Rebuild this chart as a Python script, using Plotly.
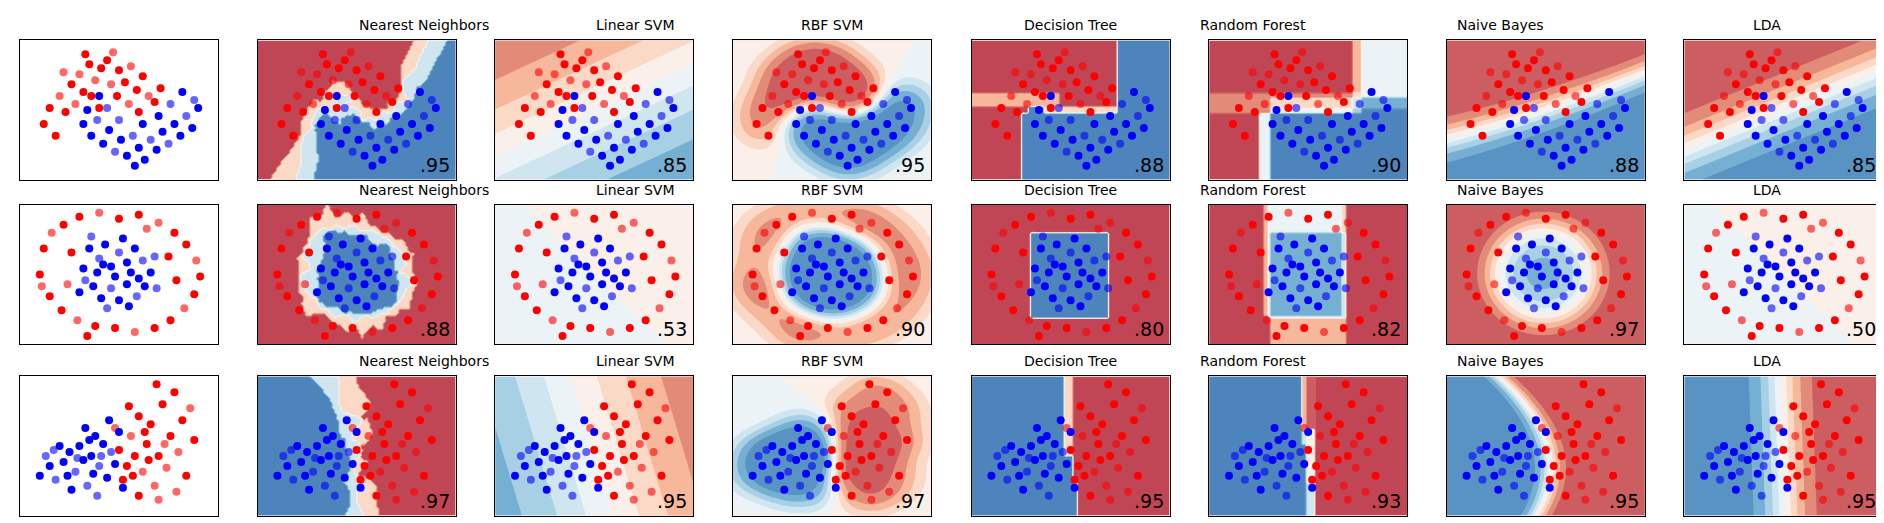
import numpy as np
import plotly.graph_objects as go

names = ["Nearest Neighbors", "Linear SVM", "RBF SVM", "Decision Tree",
         "Random Forest", "Naive Bayes", "LDA"]
scores = [[".95", ".85", ".95", ".88", ".90", ".88", ".85"],
          [".88", ".53", ".90", ".80", ".82", ".97", ".50"],
          [".97", ".95", ".97", ".95", ".93", ".95", ".95"]]

moons_red = [(1.2,2.8),(1.5,3.6),(2.0,4.2),(2.3,3.4),(2.6,4.8),(3.0,5.3),(3.2,4.4),(3.5,5.8),(3.8,5.0),(4.1,5.6),
             (4.4,6.0),(4.6,4.8),(5.0,5.5),(5.3,4.9),(5.6,5.7),(5.9,4.5),(6.2,5.2),(6.5,4.2),(6.8,3.9),(7.1,4.6),
             (2.8,3.8),(3.6,4.2),(4.9,4.2),(2.2,5.4),(1.8,2.2),(4.0,3.6),(5.5,3.8),(6.0,3.4),(3.3,6.3),(4.7,6.4)]
moons_blue = [(3.2,2.8),(3.6,2.2),(3.9,3.0),(4.2,1.8),(4.5,2.5),(4.8,1.4),(5.1,2.0),(5.4,1.2),(5.7,2.2),(6.0,1.6),
              (6.3,1.0),(6.6,2.0),(6.9,1.5),(7.2,2.4),(7.5,1.8),(7.8,2.8),(8.1,2.2),(8.4,3.2),(8.7,2.6),(9.0,3.6),
              (8.8,4.0),(4.0,4.2),(3.4,3.5),(5.0,3.0),(6.2,2.8),(7.0,3.2),(7.6,3.8),(8.2,4.4),(5.8,0.7),(4.4,3.6)]
circ_blue = [(3.2,3.8),(3.5,4.8),(4.0,4.3),(4.3,5.0),(4.6,3.9),(5.0,4.6),(5.4,4.1),(5.8,4.8),(6.2,4.2),(6.6,3.6),
             (6.3,2.9),(5.9,2.4),(5.4,3.0),(5.0,2.2),(4.6,2.8),(4.1,2.3),(3.7,2.9),(3.3,3.2),(4.8,3.4),(5.6,3.6),
             (6.8,4.4),(3.9,3.6),(5.2,5.3),(4.4,1.8),(6.0,3.3),(3.0,2.6),(6.9,2.8),(4.2,4.0),(5.5,1.9),(3.6,5.4)]
circ_red = [(1.0,3.5),(1.2,4.8),(1.6,5.6),(2.2,6.0),(3.0,6.4),(4.0,6.6),(5.0,6.3),(6.0,6.5),(7.0,6.1),(7.8,5.6),
            (8.4,5.0),(8.9,4.2),(9.1,3.4),(8.8,2.5),(8.3,1.8),(7.6,1.2),(6.8,0.8),(5.8,0.6),(4.8,0.8),(3.8,0.9),
            (2.9,1.2),(2.1,1.7),(1.5,2.4),(1.1,2.9),(2.6,4.6),(7.5,4.4),(2.4,3.0),(7.9,3.2),(3.4,0.4),(6.4,5.8)]
lin_blue = [(1.0,2.0),(1.5,2.5),(1.8,1.8),(2.2,2.7),(2.5,3.2),(2.8,2.2),(3.0,3.5),(3.2,2.8),(3.4,1.5),(3.6,3.0),
            (3.8,4.0),(4.0,2.5),(4.2,3.6),(4.4,1.9),(4.6,3.2),(2.0,3.5),(2.6,1.3),(3.9,1.0),(4.8,2.6),(5.0,4.2),
            (1.3,3.0),(3.3,4.4),(4.5,4.8),(2.9,2.9),(3.7,2.1),(5.2,1.4),(4.1,3.0),(2.4,2.0),(3.5,3.8),(1.7,3.3)]
lin_red = [(5.0,3.3),(5.4,2.5),(5.6,4.0),(5.8,3.0),(6.0,5.0),(6.2,2.2),(6.4,3.6),(6.6,4.6),(6.8,1.5),(7.0,3.0),
           (7.2,5.6),(7.4,2.4),(7.6,4.0),(7.8,6.2),(8.0,3.2),(8.2,4.8),(8.4,2.0),(8.6,5.4),(5.2,1.8),(6.0,1.0),
           (7.0,0.8),(5.5,5.5),(6.9,6.6),(7.9,1.2),(6.3,4.2),(5.7,2.0),(7.3,3.6),(8.8,3.8),(6.5,2.8),(4.8,4.4)]
datasets = [(moons_red, moons_blue), (circ_red, circ_blue), (lin_red, lin_blue)]

GX = np.linspace(0, 10, 90)
GY = np.linspace(0, 7, 63)
XX, YY = np.meshgrid(GX, GY)
G = np.c_[XX.ravel(), YY.ravel()]

def knn(X, y, P, k=3):
    d = ((P[:, None, :] - X[None]) ** 2).sum(-1)
    idx = np.argsort(d, 1)[:, :k]
    return y[idx].mean(1)

def logreg(X, y, P):
    m, s = X.mean(0), X.std(0)
    Z = np.c_[(X - m) / s, np.ones(len(X))]
    w = np.zeros(3)
    for _ in range(3000):
        p = 1 / (1 + np.exp(-Z @ w))
        w -= 0.1 * (Z.T @ (p - y) / len(y) + 0.3 * np.r_[w[:2], 0])
    Q = np.c_[(P - m) / s, np.ones(len(P))]
    return 1 / (1 + np.exp(-0.8 * (Q @ w)))

def rbf(X, y, P):
    s = X.std(0)
    d = (((P[:, None, :] - X[None]) / s) ** 2).sum(-1)
    K = np.exp(-2 * d)
    f = K @ (2 * y - 1)
    return 1 / (1 + np.exp(-0.6 * f))

def build(X, y, depth):
    if depth == 0 or len(y) < 2 or y.min() == y.max():
        return float(y.mean())
    best = None
    for f in range(2):
        vals = np.unique(X[:, f])
        for t in (vals[:-1] + vals[1:]) / 2:
            l = X[:, f] <= t
            nl, nr = l.sum(), (~l).sum()
            gl = y[l].mean(); gr = y[~l].mean()
            g = nl * gl * (1 - gl) + nr * gr * (1 - gr)
            if best is None or g < best[0]:
                best = (g, f, t)
    _, f, t = best
    l = X[:, f] <= t
    return (f, t, build(X[l], y[l], depth - 1), build(X[~l], y[~l], depth - 1))

def pred(node, P):
    if not isinstance(node, tuple):
        return np.full(len(P), node)
    f, t, a, b = node
    out = np.empty(len(P)); l = P[:, f] <= t
    out[l] = pred(a, P[l]); out[~l] = pred(b, P[~l])
    return out

def tree(X, y, P):
    return pred(build(X, y, 5), P)

def forest(X, y, P):
    acc = np.zeros(len(P))
    for i in range(10):
        sel = np.array([(j * 7 + i) % 3 != 0 for j in range(len(y))])
        acc += pred(build(X[sel], y[sel], 3), P)
    return acc / 10

def gnb(X, y, P):
    ll = []
    for c in (0, 1):
        Xc = X[y == c]; m = Xc.mean(0); v = Xc.var(0)
        ll.append((-0.5 * ((P - m) ** 2 / v + np.log(v))).sum(1))
    return 1 / (1 + np.exp(ll[0] - ll[1]))

def lda(X, y, P):
    m0, m1 = X[y == 0].mean(0), X[y == 1].mean(0)
    S = np.cov(np.r_[X[y == 0] - m0, X[y == 1] - m1].T)
    w = np.linalg.solve(S, m1 - m0)
    b = -0.5 * (m1 + m0) @ w
    return 1 / (1 + np.exp(-0.5 * (P @ w + b)))

clfs = [knn, logreg, rbf, tree, forest, gnb, lda]

rdbu = ["#b2182b", "#d6604d", "#f4a582", "#fddbc7", "#f7f7f7",
        "#d1e5f0", "#92c5de", "#4393c3", "#2166ac"]
cs = [[i / 8, c] for i, c in enumerate(rdbu)]

S = 1.2
lefts = [v * S for v in [10, 208, 406, 604, 803, 1001, 1199, 1397]]
tops = [v * S for v in [27, 164, 307]]
W, H, PW, PH = 1884, 523, 165 * S, 116 * S

fig = go.Figure()
layout = {}
ann = []
n = 0
for r, (red, blue) in enumerate(datasets):
    X = np.array(red + blue, float)
    y = np.r_[np.zeros(len(red)), np.ones(len(blue))]
    alpha = np.array([0.6 if i % 3 == 2 else 1.0 for i in range(len(y))])
    for c in range(8):
        n += 1
        xa, ya = ("x", "y") if n == 1 else (f"x{n}", f"y{n}")
        if c > 0:
            Z = clfs[c - 1](X, y, G).reshape(XX.shape)
            fig.add_trace(go.Contour(x=GX, y=GY, z=Z, colorscale=cs, zmin=0, zmax=1,
                                     contours=dict(start=0, end=1, size=0.1, coloring="fill"),
                                     line=dict(width=0), opacity=0.8, showscale=False,
                                     xaxis=xa, yaxis=ya, hoverinfo="skip"))
        for cls, col in ((0, "#ff0000"), (1, "#0000ff")):
            for a in (1.0, 0.6):
                m = (y == cls) & (alpha == a)
                fig.add_trace(go.Scatter(x=X[m, 0], y=X[m, 1], mode="markers",
                                         marker=dict(color=col, size=8, opacity=a),
                                         xaxis=xa, yaxis=ya, showlegend=False))
        sfx = "" if n == 1 else str(n)
        x0 = lefts[c] / W; y1 = 1 - tops[r] / H
        layout["xaxis" + sfx] = dict(domain=[x0, x0 + PW / W], range=[0, 10], anchor=ya,
                                     showticklabels=False, ticks="", showgrid=False, zeroline=False,
                                     showline=True, linecolor="black", mirror=True, linewidth=1)
        layout["yaxis" + sfx] = dict(domain=[y1 - PH / H, y1], range=[0, 7], anchor=xa,
                                     showticklabels=False, ticks="", showgrid=False, zeroline=False,
                                     showline=True, linecolor="black", mirror=True, linewidth=1)
        if c > 0:
            ann.append(dict(text=names[c - 1], x=(lefts[c] + PW / 2) / W, y=1 - (tops[r] - 5) / H,
                            xref="paper", yref="paper", showarrow=False, yanchor="bottom",
                            font=dict(size=14, color="black")))
            ann.append(dict(text=scores[r][c - 1], x=9.8, y=0.1, xref=xa, yref=ya,
                            showarrow=False, xanchor="right", yanchor="bottom",
                            font=dict(size=19, color="black")))

fig.update_layout(**layout, annotations=ann, width=W, height=H, showlegend=False,
                  margin=dict(l=0, r=0, t=0, b=0), plot_bgcolor="white", paper_bgcolor="white",
                  font=dict(family="DejaVu Sans"))
fig.write_html("out.html")
